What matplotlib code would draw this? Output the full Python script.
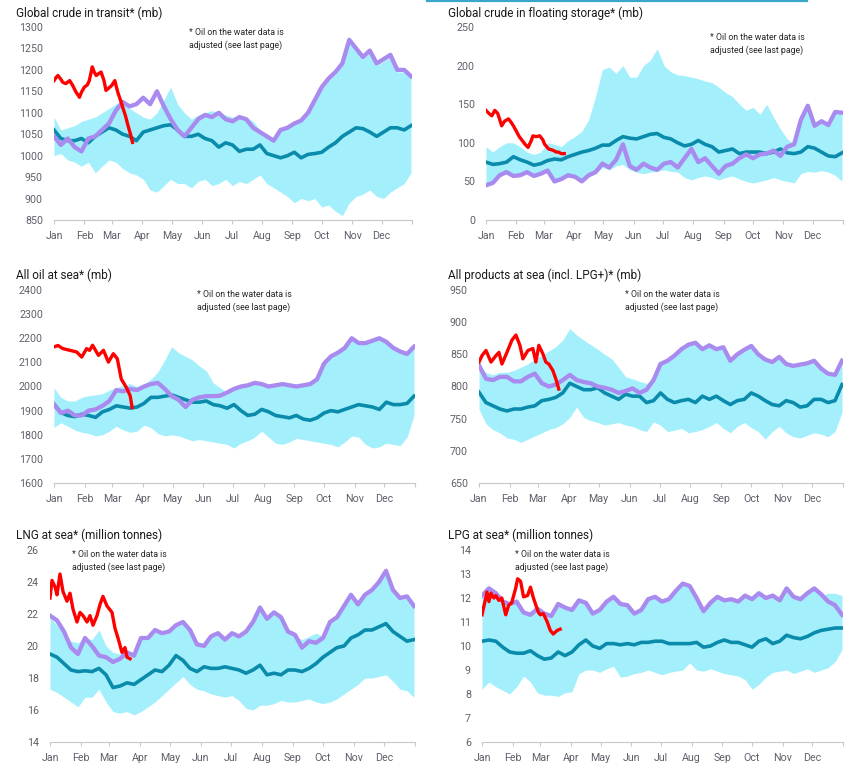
import matplotlib
matplotlib.use("Agg")
import matplotlib.pyplot as plt
from matplotlib.lines import Line2D
import numpy as np

plt.rcParams['font.family'] = ['Roboto', 'DejaVu Sans']

W, H = 864, 772

# ---------------- data ----------------
WEEK_DAYS = list(range(0, 365, 7))   # day of year, weekly readings
MONTHS = ["Jan", "Feb", "Mar", "Apr", "May", "Jun", "Jul", "Aug", "Sep", "Oct", "Nov", "Dec"]
MONTH_START = [0, 31, 59, 90, 120, 151, 181, 212, 243, 273, 304, 334]
YEAR_END = 365

TITLES = ["Global crude in transit* (mb)", "Global crude in floating storage* (mb)",
          "All oil at sea* (mb)", "All products at sea (incl. LPG+)* (mb)",
          "LNG at sea* (million tonnes)", "LPG at sea* (million tonnes)"]
NOTE = "* Oil on the water data is\nadjusted (see last page)"

# Panel 1: global crude in transit
p1_avg = [1060,1040,1035,1035,1040,1030,1045,1055,1065,1060,1050,1045,1035,1055,1060,1065,1070,1072,1060,1045,
          1045,1050,1040,1035,1020,1030,1025,1010,1015,1015,1025,1005,1000,995,1000,1008,995,1003,1005,1008,
          1020,1030,1045,1055,1065,1063,1055,1045,1055,1065,1065,1060,1070]
p1_last = [1045,1025,1040,1020,1010,1040,1045,1060,1075,1105,1125,1115,1120,1135,1120,1150,1115,1085,1060,1045,
           1065,1085,1095,1090,1100,1085,1080,1090,1085,1065,1055,1045,1035,1060,1065,1075,1082,1100,1130,1160,
           1180,1195,1215,1270,1250,1230,1245,1215,1225,1235,1200,1200,1185]
p1_hi = [1090,1060,1065,1070,1080,1085,1090,1100,1110,1120,1125,1110,1100,1090,1085,1100,1130,1160,1120,1100,
         1085,1095,1100,1105,1100,1095,1090,1090,1090,1080,1060,1050,1040,1060,1070,1075,1090,1105,1125,1155,
         1175,1190,1210,1265,1245,1225,1240,1210,1220,1230,1195,1195,1180]
p1_lo = [1000,1005,990,985,975,985,960,975,990,985,970,960,955,945,920,915,930,945,935,935,
         925,940,945,930,935,945,930,940,935,945,955,935,925,915,905,890,900,895,900,880,
         885,870,860,890,905,910,920,905,900,915,925,935,960]
p1_cur_days = [0,2,4,7,9,12,16,19,22,26,28,31,34,36,39,41,43,46,48,51,53,56,59,62,65,68,70,73,75,78,80]
p1_cur = [1175,1182,1187,1178,1171,1168,1175,1164,1150,1136,1148,1160,1165,1175,1207,1195,1187,1192,1195,1175,
          1152,1158,1164,1175,1148,1128,1113,1092,1074,1050,1031]

# Panel 2: floating storage
p2_avg = [75,72,73,75,82,78,75,71,73,77,79,78,82,85,88,90,93,97,97,103,108,106,105,108,111,112,107,105,100,96,
          98,103,98,95,88,90,92,86,88,88,88,86,88,92,87,86,88,95,93,88,83,82,87]
p2_last = [45,48,58,62,57,58,62,57,60,64,50,53,58,56,50,58,62,73,68,78,98,70,65,73,68,65,73,75,68,80,
           92,75,80,70,60,70,73,80,85,80,85,86,90,83,95,98,130,148,122,128,123,140,139]
p2_hi = [95,88,95,100,100,95,88,85,88,100,98,95,103,108,115,130,160,195,198,190,200,185,185,200,207,222,200,192,188,187,
         185,183,180,178,172,165,160,150,142,146,137,150,133,118,105,98,130,148,122,128,123,140,139]
p2_lo = [45,48,57,60,56,57,60,56,58,62,48,52,56,55,49,56,60,68,65,70,72,65,62,60,62,63,65,63,62,55,
         52,55,57,55,52,55,57,53,50,48,50,52,55,52,50,48,60,63,62,64,62,58,50]
p2_cur_days = [0,3,6,9,12,16,19,23,26,28,31,34,37,40,43,46,48,51,55,58,60,64,67,69,72,74,77,80]
p2_cur = [142,138,135,142,138,122,128,131,126,122,115,108,103,98,94,102,109,108,109,104,98,92,91,90,88,88,86,86]

# Panel 3: all oil at sea
p3_avg = [1927,1892,1880,1875,1885,1880,1872,1895,1905,1920,1915,1910,1915,1930,1955,1955,1960,1965,1955,1945,
          1935,1935,1940,1925,1920,1910,1925,1900,1880,1885,1905,1895,1880,1875,1870,1880,1865,1860,1870,1890,
          1900,1895,1905,1915,1925,1920,1915,1905,1935,1925,1925,1930,1960]
p3_last = [1925,1890,1900,1880,1880,1900,1905,1920,1940,1985,1980,1990,1985,2000,2010,2015,1990,1960,1945,1915,
           1945,1955,1960,1960,1962,1975,1990,2000,2005,2015,2010,2000,2005,2010,2005,2000,2005,2010,2030,2095,
           2125,2140,2160,2200,2180,2180,2190,2200,2185,2160,2145,2135,2165]
p3_hi = [1995,1955,1940,1940,1955,1962,1965,1970,1985,1995,2005,2012,2000,2010,2030,2060,2110,2165,2140,2125,
         2110,2085,2065,2015,1995,1975,1987,1997,2002,2012,2007,1997,2002,2007,2002,1997,2002,2007,2027,2092,
         2122,2137,2157,2197,2177,2177,2187,2197,2182,2157,2142,2132,2162]
p3_lo = [1830,1850,1835,1820,1810,1805,1795,1800,1815,1835,1820,1810,1815,1840,1830,1805,1795,1800,1795,1785,
         1775,1780,1775,1770,1765,1760,1745,1765,1775,1790,1815,1790,1765,1760,1770,1785,1780,1775,1770,1765,
         1760,1750,1770,1795,1790,1760,1745,1750,1765,1760,1755,1790,1880]
p3_cur_days = [0,4,9,16,23,28,33,36,39,45,50,55,60,64,68,73,77,79]
p3_cur = [2164,2170,2157,2150,2143,2122,2157,2150,2171,2129,2150,2101,2136,2115,2031,1997,1962,1913]

# Panel 4: all products at sea
p4_avg = [791,775,770,765,762,765,765,768,770,778,780,783,790,805,800,795,795,798,790,785,
          780,788,785,785,775,778,790,780,775,778,780,775,785,780,785,778,772,778,780,790,
          785,778,772,770,778,775,768,770,780,780,775,778,803]
p4_last = [833,812,810,815,815,808,808,815,820,805,800,803,810,818,810,807,805,800,798,795,
           790,793,797,790,795,810,835,840,848,858,865,868,858,864,858,861,840,850,857,863,
           850,842,838,846,835,832,834,836,840,828,820,818,840]
p4_hi = [830,822,818,822,822,825,830,835,843,848,855,862,872,890,880,872,865,858,850,843,
         830,815,812,808,805,808,833,838,846,856,863,866,856,862,856,859,838,848,855,861,
         848,840,836,844,833,830,832,834,838,826,818,816,838]
p4_lo = [765,742,733,728,720,718,713,718,723,728,733,736,742,752,768,752,747,744,740,742,
         744,740,738,733,730,745,740,730,732,735,728,730,733,738,744,735,728,738,744,736,
         730,718,730,738,728,722,720,724,728,726,722,730,760]
p4_cur_days = [0,3,7,12,17,20,23,28,33,37,41,44,49,54,57,60,64,67,70,74,77,80]
p4_cur = [838,848,856,838,848,853,835,853,872,880,864,843,856,859,838,864,851,838,835,825,812,796]

# Panel 5: LNG at sea
p5_avg = [19.5,19.3,18.9,18.5,18.4,18.45,18.4,18.6,18.2,17.4,17.5,17.7,17.6,17.9,18.2,18.5,18.4,18.8,19.4,19.1,
          18.6,18.4,18.7,18.6,18.6,18.7,18.6,18.5,18.3,18.5,18.8,18.2,18.3,18.2,18.5,18.5,18.4,18.6,18.9,19.3,
          19.6,19.9,20.0,20.5,20.7,21.0,21.0,21.2,21.4,20.9,20.6,20.3,20.4]
p5_last = [21.9,21.6,20.9,19.9,19.5,20.5,20.0,19.4,19.3,19.0,19.2,19.6,19.4,20.5,20.5,21.0,20.8,20.9,21.3,21.5,
           21.0,20.1,20.0,20.6,20.8,20.4,20.8,20.6,20.9,21.5,22.4,21.7,22.1,21.8,20.9,20.7,19.9,20.3,20.2,20.5,
           21.5,21.8,22.5,23.2,22.6,23.2,23.5,24.0,24.7,23.5,23.0,23.1,22.5]
p5_hi = [21.8,21.3,20.7,20.3,20.2,20.5,20.4,21.0,20.0,19.6,19.5,19.6,19.4,
         20.4,20.4,20.9,20.7,20.8,21.2,21.4,20.9,20.0,19.9,20.5,20.7,20.3,20.7,20.5,20.8,21.4,22.3,21.6,22.0,21.7,20.8,20.6,
         20.4,20.6,20.8,20.6,
         21.4,21.7,22.4,23.1,22.5,23.1,23.4,23.9,24.6,23.4,22.9,23.0,22.4]
p5_lo = [17.3,17.1,16.8,16.5,16.2,16.8,16.8,17.3,16.5,15.9,15.8,15.9,15.7,15.9,16.2,16.5,16.9,17.3,17.7,18.1,
         17.6,17.3,17.2,17.0,16.9,16.8,16.9,16.6,16.1,16.0,16.3,16.3,16.4,16.6,16.5,16.5,16.6,16.7,16.5,16.4,
         16.5,16.7,17.0,17.3,17.6,18.0,18.0,18.1,18.2,17.8,17.3,17.2,16.8]
p5_cur_days = [0,2,5,7,10,13,17,20,23,27,30,33,37,40,43,47,50,53,57,62,65,68,72,75,77,80]
p5_cur = [23.0,24.1,23.7,23.2,24.5,23.4,22.8,23.3,22.3,21.5,22.1,21.9,21.5,21.9,21.3,21.9,22.6,23.1,22.5,22.1,
          21.1,20.5,19.6,19.9,19.3,19.2]

# Panel 6: LPG at sea
p6_avg = [10.2,10.25,10.2,9.95,9.75,9.7,9.7,9.8,9.6,9.45,9.5,9.75,9.6,9.75,10.05,10.25,10.0,9.9,10.1,10.1,
          10.05,10.1,10.05,10.15,10.15,10.2,10.2,10.1,10.1,10.1,10.1,10.15,9.95,10.0,10.15,10.25,10.15,10.15,10.05,9.95,
          10.2,10.3,10.1,10.2,10.45,10.35,10.3,10.4,10.55,10.65,10.7,10.75,10.75]
p6_last = [12.1,12.4,12.2,11.85,11.75,11.85,11.4,11.3,11.55,11.35,11.25,11.75,11.6,11.5,11.9,11.8,11.35,11.5,11.85,12.05,
           11.75,11.7,11.35,11.5,11.95,12.05,11.85,11.95,12.3,12.6,12.5,12.0,11.45,11.8,12.05,11.9,11.95,11.85,12.1,11.95,
           12.2,12.0,12.1,11.9,12.4,12.05,11.95,12.2,12.4,12.15,11.85,11.7,11.3]
p6_hi = [12.05,12.35,12.15,11.8,11.7,11.8,11.35,11.25,11.5,11.3,11.2,11.7,11.55,11.45,11.85,11.75,11.3,11.45,11.8,12.0,
         11.7,11.65,11.3,11.45,11.9,12.0,11.8,11.9,12.25,12.55,12.45,11.95,11.4,11.75,12.0,11.85,11.9,11.8,12.05,11.9,
         12.15,11.95,12.05,11.85,12.35,12.0,11.9,12.15,12.35,12.1,12.2,12.2,12.1]
p6_lo = [8.2,8.5,8.3,8.15,8.0,8.3,8.75,8.5,8.05,7.95,7.95,7.9,8.05,8.1,8.85,9.0,9.0,8.9,9.05,9.15,
         8.7,8.75,8.85,8.9,9.0,8.9,8.8,8.9,8.95,9.0,9.3,9.0,8.95,9.05,8.95,8.85,8.8,8.75,8.6,8.2,
         8.4,8.7,8.9,8.95,9.0,8.85,8.95,9.05,8.9,9.0,9.1,9.35,9.85]
p6_cur_days = [0,3,5,7,9,12,14,17,20,24,27,30,34,36,39,42,46,49,52,57,59,62,66,69,72,76,79]
p6_cur = [11.3,11.85,12.25,11.85,12.2,12.0,12.1,11.9,12.0,11.3,11.7,11.8,12.4,12.8,12.7,12.05,12.1,12.45,12.0,11.4,
          11.3,11.35,11.0,10.65,10.5,10.65,10.7]

# ---------------- style / layout ----------------
C_BAND = "#a3f0fc"
C_AVG = "#0b8bab"
C_LAST = "#a98bef"
C_CUR = "#ff0000"
C_TICK = "#5f5f6b"
C_TITLE = "#1a1a1a"

panels = [
    dict(data=(p1_lo, p1_hi, p1_avg, p1_last, p1_cur_days, p1_cur), ylim=(850, 1300), step=50,
         box=(54, 412, 27, 220), title=(16, 13), note=(189, 39)),
    dict(data=(p2_lo, p2_hi, p2_avg, p2_last, p2_cur_days, p2_cur), ylim=(0, 250), step=50,
         box=(486, 843, 27, 220), title=(448, 13), note=(710, 44)),
    dict(data=(p3_lo, p3_hi, p3_avg, p3_last, p3_cur_days, p3_cur), ylim=(1600, 2400), step=100,
         box=(54, 415, 290, 483), title=(16, 275), note=(197, 301)),
    dict(data=(p4_lo, p4_hi, p4_avg, p4_last, p4_cur_days, p4_cur), ylim=(650, 950), step=50,
         box=(479, 843, 290, 483), title=(448, 275), note=(625, 301)),
    dict(data=(p5_lo, p5_hi, p5_avg, p5_last, p5_cur_days, p5_cur), ylim=(14, 26), step=2,
         box=(50, 415, 550, 742), title=(16, 535), note=(72, 561)),
    dict(data=(p6_lo, p6_hi, p6_avg, p6_last, p6_cur_days, p6_cur), ylim=(6, 14), step=1,
         box=(482, 843, 550, 742), title=(448, 535), note=(515, 561)),
]

fig = plt.figure(figsize=(W / 100, H / 100), dpi=100)
fig.patch.set_facecolor("white")

def fx(x):
    return x / W

def fy(y):
    return 1 - y / H

for i, p in enumerate(panels):
    l, r, t, b = p["box"]
    ax = fig.add_axes([fx(l), fy(b), fx(r) - fx(l), fy(t) - fy(b)])
    lo, hi, avg, last, cdays, cur = p["data"]
    ax.fill_between(WEEK_DAYS, lo, hi, color=C_BAND, lw=0, zorder=1)
    ax.plot(WEEK_DAYS, avg, color=C_AVG, lw=2.6, zorder=3, solid_joinstyle="round")
    ax.plot(WEEK_DAYS, last, color=C_LAST, lw=3.1, zorder=4, solid_joinstyle="round")
    ax.plot(cdays, cur, color=C_CUR, lw=2.4, zorder=5, solid_joinstyle="round")
    y0, y1 = p["ylim"]
    ax.set_ylim(y0, y1)
    ax.set_xlim(0, YEAR_END)
    ax.set_yticks(np.arange(y0, y1 + p["step"] / 2, p["step"]))
    ax.set_xticks(MONTH_START + [YEAR_END])
    ax.set_xticklabels(MONTHS + [""])
    for s in ["top", "right", "left"]:
        ax.spines[s].set_visible(False)
    ax.spines["bottom"].set_color("#c8c8c8")
    ax.spines["bottom"].set_linewidth(0.8)
    ax.tick_params(axis="y", length=0, pad=8, labelsize=7.7, labelcolor=C_TICK)
    ax.tick_params(axis="x", length=3, width=0.8, color="#c8c8c8", pad=5,
                   labelsize=7.7, labelcolor=C_TICK)
    ax.set_facecolor("none")
    tx, ty = p["title"]
    fig.text(fx(tx), fy(ty), TITLES[i], ha="left", va="center", fontsize=8.5, color=C_TITLE)
    nx, ny = p["note"]
    fig.text(fx(nx), fy(ny), NOTE, ha="left", va="center", fontsize=6.3, color="#262626",
             linespacing=1.35)

fig.add_artist(Line2D([fx(427), fx(807)], [fy(0.8), fy(0.8)], color="#3aa6c9", lw=1.6))

fig.savefig("out.png", dpi=100, facecolor="white")
